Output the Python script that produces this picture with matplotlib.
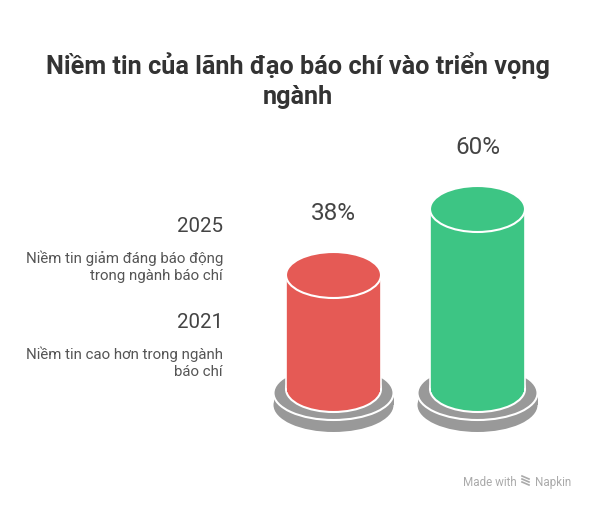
import matplotlib.pyplot as plt
from matplotlib.patches import Ellipse, Rectangle

plt.rcParams['font.family'] = ['Roboto', 'DejaVu Sans']

# data
years = ["2025", "2021"]
descriptions = ["Niềm tin giảm đáng báo động\ntrong ngành báo chí",
                "Niềm tin cao hơn trong ngành\nbáo chí"]
values = [38, 60]
labels = ["38%", "60%"]
colors = ["#E55A55", "#3DC584"]
title = "Niềm tin của lãnh đạo báo chí vào triển vọng\nngành"

W, H = 596, 510
fig = plt.figure(figsize=(W / 100, H / 100), dpi=100)

# background axes in pixel coords for text
bg = fig.add_axes([0, 0, 1, 1])
bg.set_xlim(0, W)
bg.set_ylim(H, 0)
bg.axis("off")

for j, line in enumerate(title.split("\n")):
    bg.text(298, 74 + j * 30, line, ha="center", va="baseline",
            fontsize=18.2, fontweight="bold", color="#333333")

ypos = [232, 328]
for i in range(2):
    bg.text(223, ypos[i], years[i], ha="right", va="baseline", fontsize=14.8, color="#444444")
    for j, line in enumerate(descriptions[i].split("\n")):
        bg.text(223, ypos[i] + 31 + j * 17, line, ha="right", va="baseline",
                fontsize=10.8, color="#555555")

# watermark
bg.text(463, 486, "Made with", ha="left", va="baseline", fontsize=8.4, color="#aaaaaa")
bg.text(535, 486, "Napkin", ha="left", va="baseline", fontsize=8.4, color="#aaaaaa")
for k in range(3):
    bg.plot([522, 529], [477 + k * 3, 480 + k * 3], color="#aaaaaa", lw=1.2)

# cylinder axes: x = category index, y = percent (3 px per %)
px_per_unit_x = 144.0
px_per_pct = 3.0
ax_l, ax_r, ax_t, ax_b = 250, 550, 110, 445
base_px = 390
x0 = (333.5 - ax_l) / px_per_unit_x
ax = fig.add_axes([ax_l / W, (H - ax_b) / H, (ax_r - ax_l) / W, (ax_b - ax_t) / H])
ax.set_xlim(-x0, -x0 + (ax_r - ax_l) / px_per_unit_x)
ax.set_ylim(-(ax_b - base_px) / px_per_pct, (base_px - ax_t) / px_per_pct)
ax.axis("off")

cw = 95 / px_per_unit_x
ch = 46 / px_per_pct
dw = 120 / px_per_unit_x
dh = 54 / px_per_pct
dy = -(394 - base_px) / px_per_pct
dthick = 12 / px_per_pct
gray = "#999999"

for i, v in enumerate(values):
    # base disc
    ax.add_patch(Ellipse((i, dy - dthick), dw, dh, fc=gray, ec="none", zorder=1))
    ax.add_patch(Rectangle((i - dw / 2, dy - dthick), dw, dthick, fc=gray, ec="none", zorder=1))
    ax.add_patch(Ellipse((i, dy), dw, dh, fc=gray, ec="white", lw=1.5, zorder=2))
    # cylinder
    ax.add_patch(Ellipse((i, 0), cw, ch, fc=colors[i], ec="white", lw=1.5, zorder=3))
    ax.add_patch(Rectangle((i - cw / 2, 0), cw, v, fc=colors[i], ec="white", lw=1.2, zorder=4))
    ax.add_patch(Rectangle((i - cw / 2 + 0.01, -1), cw - 0.02, v, fc=colors[i], ec="none", zorder=5))
    ax.add_patch(Ellipse((i, v), cw, ch, fc=colors[i], ec="white", lw=1.5, zorder=6))
    ax.text(i, v + ch / 2 + 33 / px_per_pct, labels[i], ha="center", va="baseline",
            fontsize=17.5, color="#444444")

fig.savefig("out.png", dpi=100, facecolor="white")
